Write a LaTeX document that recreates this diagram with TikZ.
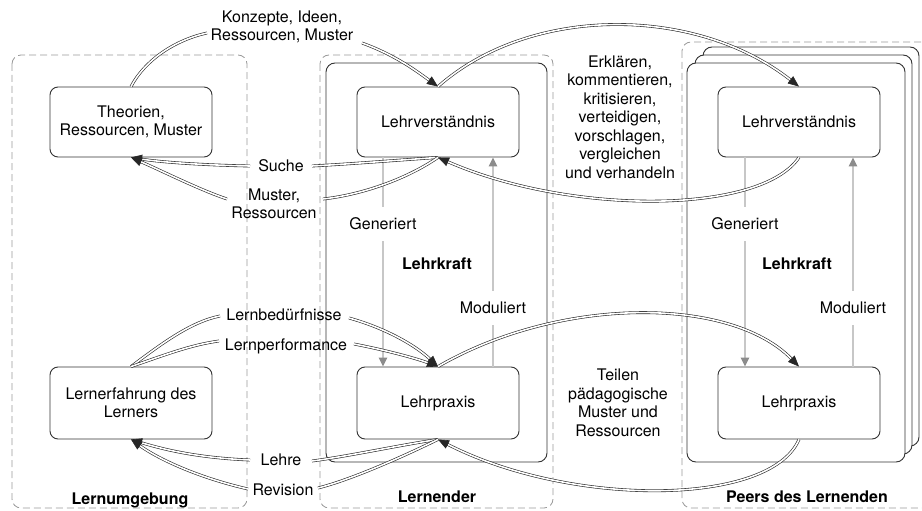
\documentclass[tikz,border=0pt]{standalone}
\usepackage{fontspec}
\setmainfont{TeX Gyre Heros}
\usetikzlibrary{arrows.meta}
\begin{document}
\begin{tikzpicture}[x=1pt,y=-1pt,
  font=\fontsize{16}{18.5}\selectfont,
  every node/.style={text=black},
  box/.style={draw=black!80,line width=0.9pt,rounded corners=8pt,minimum width=162pt,minimum height=70pt,align=center,fill=white,inner sep=0pt},
  frame/.style={draw=black!80,line width=0.9pt,rounded corners=9pt,fill=white},
  zone/.style={draw=black!40,line width=0.8pt,dash pattern=on 7pt off 4pt,rounded corners=9pt},
  conn/.style={draw=black!85,line width=0.6pt,double=white,double distance=1.6pt,-{Triangle[length=11pt,width=9pt]}},
  connp/.style={draw=black!85,line width=0.6pt,double=white,double distance=1.6pt},
  grayline/.style={draw=black!22,line width=2.6pt},
  grayarr/.style={grayline,-{Triangle[length=9pt,width=8pt,color=black!45]}},
  lbl/.style={align=center,inner sep=0pt},
  glbl/.style={align=center,inner xsep=0pt,inner ysep=11pt},
  bold/.style={font=\fontsize{16}{18.5}\selectfont\bfseries},
]
\useasboundingbox (0,0) rectangle (922,511);
\clip (0,0) rectangle (922,511);
% zones
\draw[zone] (12,55) rectangle (247,508);
\draw[zone] (320,55) rectangle (553,508);
\draw[zone] (682,42) rectangle (940,508);
% Lehrkraft frames
\draw[frame] (326,63) rectangle (547,462);
\draw[frame] (703,47) rectangle (919,446);
\draw[frame] (695,55) rectangle (912,454);
\draw[frame] (687,63) rectangle (905,462);
% boxes
\node[box] (theo) at (131,122) {Theorien,\\Ressourcen, Muster};
\node[box] (lv) at (438,122) {Lehrverständnis};
\node[box] (plv) at (799,122) {Lehrverständnis};
\node[box,minimum height=72pt] (lern) at (131,403) {Lernerfahrung des\\Lerners};
\node[box,minimum height=72pt] (lp) at (438,403) {Lehrpraxis};
\node[box,minimum height=72pt] (plp) at (799,403) {Lehrpraxis};
% labels
\node[lbl] (konz) at (282,27) {Konzepte, Ideen,\\Ressourcen, Muster};
\node[lbl] (suche) at (281,166) {Suche};
\node[lbl] (must) at (274,204) {Muster,\\Ressourcen};
\node[lbl] (erkl) at (620,117) {Erklären,\\kommentieren,\\kritisieren,\\verteidigen,\\vorschlagen,\\vergleichen\\und verhandeln};
\node[lbl] (lbed) at (284,315) {Lernbedürfnisse};
\node[lbl] (lperf) at (286,346) {Lernperformance};
\node[lbl] (teil) at (618,403) {Teilen\\pädagogische\\Muster und\\Ressourcen};
\node[lbl] (lehre) at (281,460) {Lehre};
\node[lbl] (rev) at (283,490) {Revision};
\node[lbl,bold] (lumg) at (130,500) {Lernumgebung};
\node[lbl,bold] (lnd) at (437,497) {Lernender};
\node[lbl,bold] (peers) at (807,497) {Peers des Lernenden};
\node[lbl,bold] (lk) at (437,264) {Lehrkraft};
\node[lbl,bold] (plk) at (797,264) {Lehrkraft};
\node[glbl] (gen) at (383,224) {Generiert};
\node[glbl] (mod) at (493,308) {Moduliert};
\node[glbl] (pgen) at (745,224) {Generiert};
\node[glbl] (pmod) at (853,308) {Moduliert};
% gray arrows
\draw[grayline] (gen.north |- lv.south) -- (gen.north);
\draw[grayarr] (gen.south) -- (gen.south |- lp.north);
\draw[grayline] (mod.south |- lp.north) -- (mod.south);
\draw[grayarr] (mod.north) -- (mod.north |- lv.south);
\draw[grayline] (pgen.north |- plv.south) -- (pgen.north);
\draw[grayarr] (pgen.south) -- (pgen.south |- plp.north);
\draw[grayline] (pmod.south |- plp.north) -- (pmod.south);
\draw[grayarr] (pmod.north) -- (pmod.north |- plv.south);
% connector end points at labels
\coordinate (k1) at (207,33);
\coordinate (k2) at (362,43);
\coordinate (s1) at (312,166);
\coordinate (s2) at (250,166);
\coordinate (m1) at (323,199);
\coordinate (m2) at (227,199);
\coordinate (lb1) at (220,316);
\coordinate (lb2) at (349,318);
\coordinate (lf1) at (219,341);
\coordinate (lf2) at (354,344);
\coordinate (le1) at (312,461);
\coordinate (le2) at (250,460);
\coordinate (rv1) at (318,488);
\coordinate (rv2) at (248,489);
% connectors
\draw[connp] (theo.north) .. controls (145,60) and (175,40) .. (k1);
\draw[conn] (k2) .. controls (395,55) and (415,70) .. (lv.north);
\draw[conn] (lv.north) .. controls (530,5) and (695,5) .. (plv.north);
\draw[conn] (plv.south) .. controls (760,215) and (570,215) .. (lv.south);
\draw[connp] (lv.south) .. controls (400,160) and (350,164) .. (s1);
\draw[conn] (s2) .. controls (200,165) and (160,162) .. (theo.south);
\draw[connp] (lv.south) .. controls (405,180) and (360,195) .. (m1);
\draw[conn] (m2) .. controls (200,190) and (160,170) .. (theo.south);
\draw[connp] (lern.north) .. controls (160,345) and (190,322) .. (lb1);
\draw[conn] (lb2) .. controls (385,328) and (415,345) .. (lp.north);
\draw[connp] (lern.north) .. controls (165,355) and (190,345) .. (lf1);
\draw[conn] (lf2) .. controls (385,350) and (415,358) .. (lp.north);
\draw[conn] (lp.north) .. controls (560,296) and (730,296) .. (plp.north);
\draw[connp] (lp.south) .. controls (400,445) and (350,456) .. (le1);
\draw[conn] (le2) .. controls (200,458) and (165,450) .. (lern.south);
\draw[connp] (lp.south) .. controls (400,458) and (350,480) .. (rv1);
\draw[conn] (rv2) .. controls (200,478) and (160,460) .. (lern.south);
\draw[conn] (plp.south) .. controls (770,507) and (570,507) .. (lp.south);
\end{tikzpicture}
\end{document}
